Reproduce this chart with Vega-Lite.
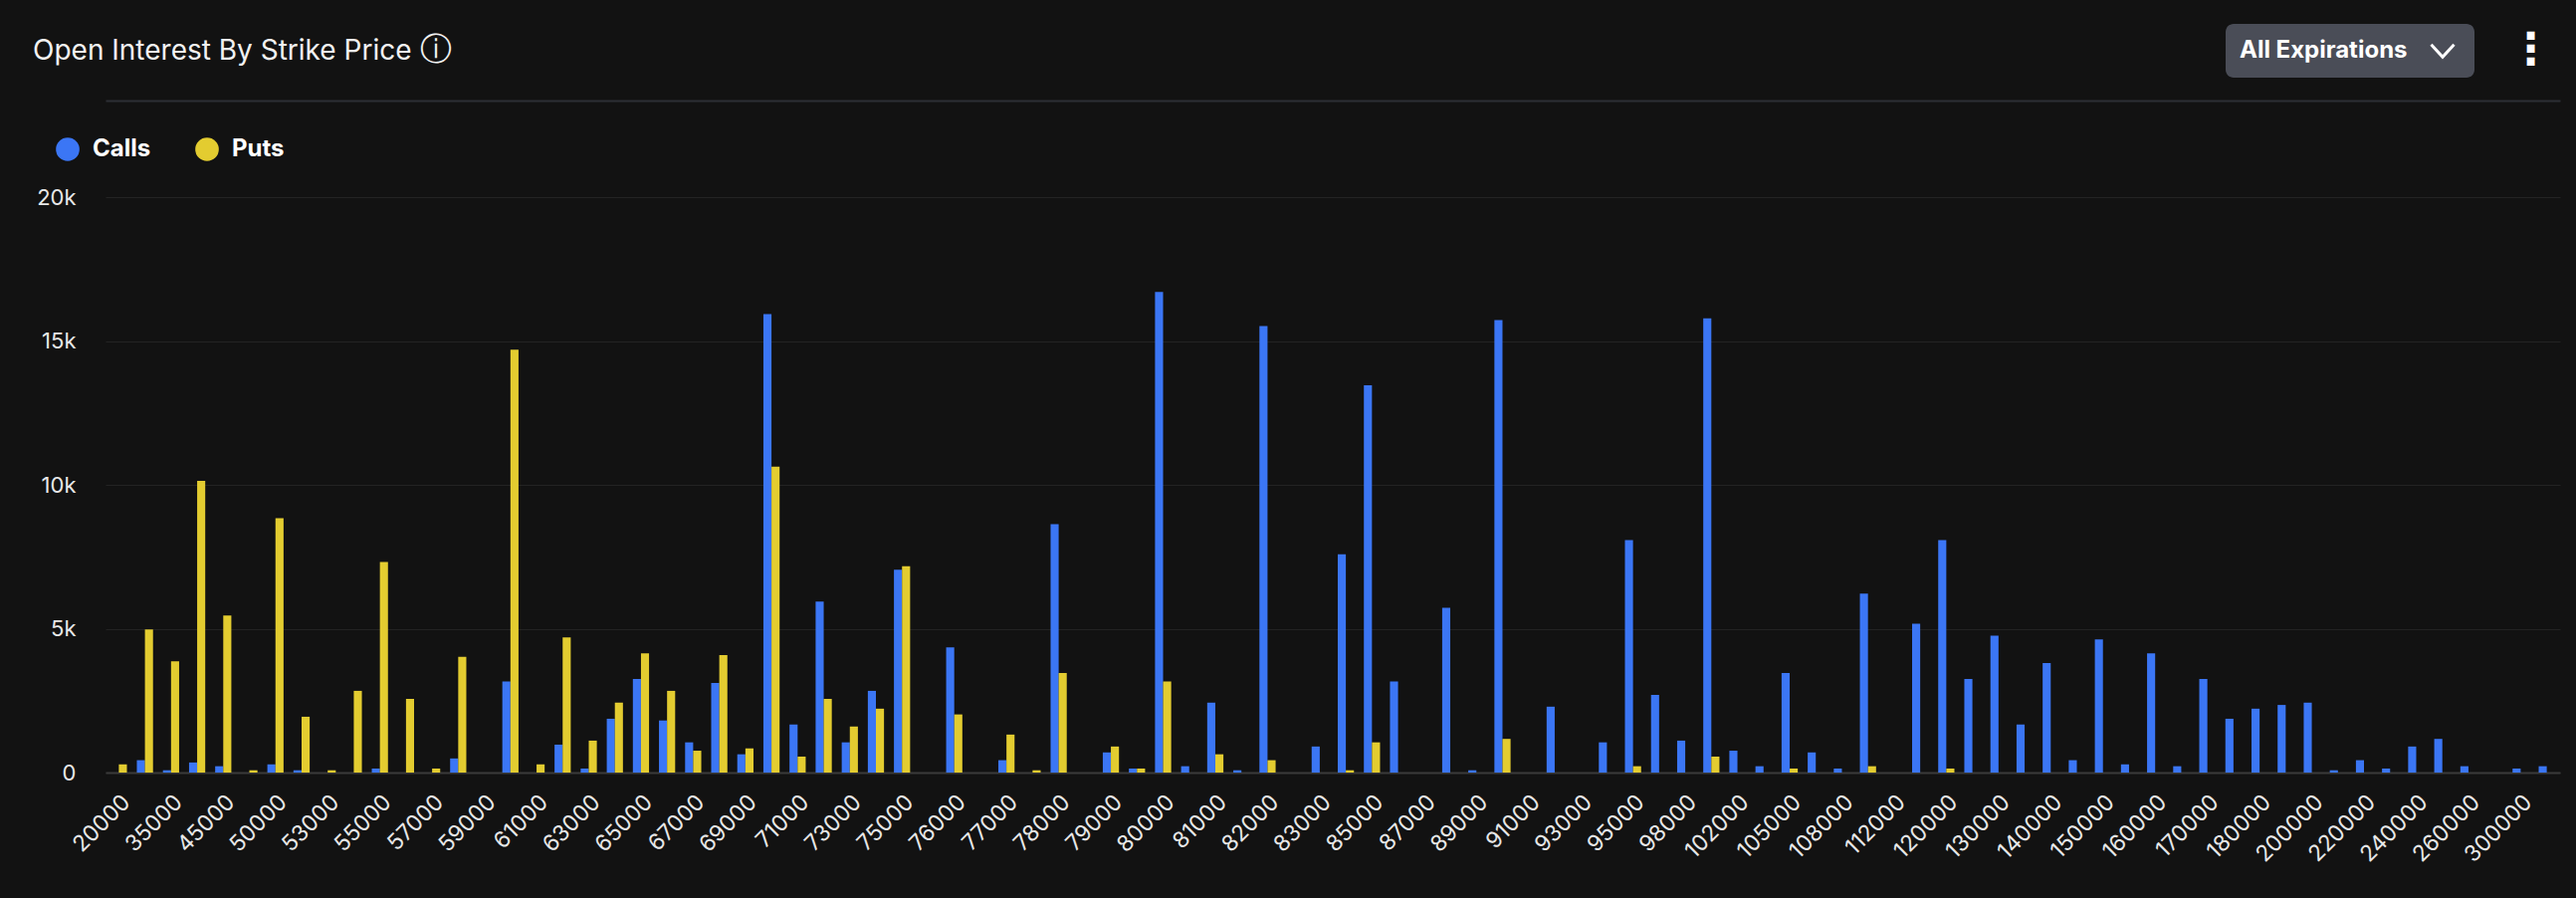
{
  "$schema": "https://vega.github.io/schema/vega-lite/v6.json",
  "description": "Open interest by strike price, calls vs puts.",
  "autosize": {"type": "none"},
  "width": 2466,
  "height": 578,
  "padding": {"left": 106, "top": 198, "right": 16, "bottom": 126},
  "background": "#121212",
  "title": {
    "text": "Open Interest By Strike Price",
    "anchor": "start",
    "frame": "group",
    "dx": -73,
    "dy": 46,
    "fontSize": 28,
    "fontWeight": "normal",
    "font": "Inter",
    "color": "#f2f2f2"
  },
  "layer": [
    {
      "data": {
        "values": [
          {"strike": 20000, "Calls": 0, "Puts": 285},
          {"strike": 30000, "Calls": 430, "Puts": 4970},
          {"strike": 35000, "Calls": 80, "Puts": 3870},
          {"strike": 40000, "Calls": 350, "Puts": 10140},
          {"strike": 45000, "Calls": 220, "Puts": 5460},
          {"strike": 48000, "Calls": 0, "Puts": 80},
          {"strike": 50000, "Calls": 285, "Puts": 8840},
          {"strike": 52000, "Calls": 80, "Puts": 1940},
          {"strike": 53000, "Calls": 0, "Puts": 80},
          {"strike": 54000, "Calls": 0, "Puts": 2840},
          {"strike": 55000, "Calls": 140, "Puts": 7320},
          {"strike": 56000, "Calls": 0, "Puts": 2560},
          {"strike": 57000, "Calls": 0, "Puts": 140},
          {"strike": 58000, "Calls": 490, "Puts": 4020},
          {"strike": 59000, "Calls": 0, "Puts": 0},
          {"strike": 60000, "Calls": 3170, "Puts": 14700},
          {"strike": 61000, "Calls": 0, "Puts": 285},
          {"strike": 62000, "Calls": 970, "Puts": 4700},
          {"strike": 63000, "Calls": 140, "Puts": 1110},
          {"strike": 64000, "Calls": 1870, "Puts": 2430},
          {"strike": 65000, "Calls": 3250, "Puts": 4140},
          {"strike": 66000, "Calls": 1810, "Puts": 2840},
          {"strike": 67000, "Calls": 1050, "Puts": 760},
          {"strike": 68000, "Calls": 3110, "Puts": 4080},
          {"strike": 69000, "Calls": 635, "Puts": 840},
          {"strike": 70000, "Calls": 15930, "Puts": 10630},
          {"strike": 71000, "Calls": 1670, "Puts": 555},
          {"strike": 72000, "Calls": 5940, "Puts": 2560},
          {"strike": 73000, "Calls": 1050, "Puts": 1600},
          {"strike": 74000, "Calls": 2840, "Puts": 2220},
          {"strike": 75000, "Calls": 7050, "Puts": 7170},
          {"strike": 75500, "Calls": 0, "Puts": 0},
          {"strike": 76000, "Calls": 4350, "Puts": 2020},
          {"strike": 76500, "Calls": 0, "Puts": 0},
          {"strike": 77000, "Calls": 430, "Puts": 1320},
          {"strike": 77500, "Calls": 0, "Puts": 80},
          {"strike": 78000, "Calls": 8630, "Puts": 3460},
          {"strike": 78500, "Calls": 0, "Puts": 0},
          {"strike": 79000, "Calls": 700, "Puts": 905},
          {"strike": 79500, "Calls": 140, "Puts": 140},
          {"strike": 80000, "Calls": 16700, "Puts": 3170},
          {"strike": 80500, "Calls": 220, "Puts": 0},
          {"strike": 81000, "Calls": 2430, "Puts": 635},
          {"strike": 81500, "Calls": 80, "Puts": 0},
          {"strike": 82000, "Calls": 15520, "Puts": 430},
          {"strike": 82500, "Calls": 0, "Puts": 0},
          {"strike": 83000, "Calls": 905, "Puts": 0},
          {"strike": 84000, "Calls": 7590, "Puts": 80},
          {"strike": 85000, "Calls": 13460, "Puts": 1050},
          {"strike": 86000, "Calls": 3170, "Puts": 0},
          {"strike": 87000, "Calls": 0, "Puts": 0},
          {"strike": 88000, "Calls": 5730, "Puts": 0},
          {"strike": 89000, "Calls": 80, "Puts": 0},
          {"strike": 90000, "Calls": 15730, "Puts": 1170},
          {"strike": 91000, "Calls": 0, "Puts": 0},
          {"strike": 92000, "Calls": 2290, "Puts": 0},
          {"strike": 93000, "Calls": 0, "Puts": 0},
          {"strike": 94000, "Calls": 1050, "Puts": 0},
          {"strike": 95000, "Calls": 8080, "Puts": 220},
          {"strike": 96000, "Calls": 2700, "Puts": 0},
          {"strike": 98000, "Calls": 1110, "Puts": 0},
          {"strike": 100000, "Calls": 15790, "Puts": 555},
          {"strike": 102000, "Calls": 760, "Puts": 0},
          {"strike": 104000, "Calls": 220, "Puts": 0},
          {"strike": 105000, "Calls": 3460, "Puts": 140},
          {"strike": 106000, "Calls": 700, "Puts": 0},
          {"strike": 108000, "Calls": 140, "Puts": 0},
          {"strike": 110000, "Calls": 6220, "Puts": 220},
          {"strike": 112000, "Calls": 0, "Puts": 0},
          {"strike": 115000, "Calls": 5170, "Puts": 0},
          {"strike": 120000, "Calls": 8080, "Puts": 140},
          {"strike": 125000, "Calls": 3250, "Puts": 0},
          {"strike": 130000, "Calls": 4760, "Puts": 0},
          {"strike": 135000, "Calls": 1670, "Puts": 0},
          {"strike": 140000, "Calls": 3810, "Puts": 0},
          {"strike": 145000, "Calls": 430, "Puts": 0},
          {"strike": 150000, "Calls": 4630, "Puts": 0},
          {"strike": 155000, "Calls": 285, "Puts": 0},
          {"strike": 160000, "Calls": 4140, "Puts": 0},
          {"strike": 165000, "Calls": 220, "Puts": 0},
          {"strike": 170000, "Calls": 3250, "Puts": 0},
          {"strike": 175000, "Calls": 1870, "Puts": 0},
          {"strike": 180000, "Calls": 2220, "Puts": 0},
          {"strike": 190000, "Calls": 2350, "Puts": 0},
          {"strike": 200000, "Calls": 2430, "Puts": 0},
          {"strike": 210000, "Calls": 80, "Puts": 0},
          {"strike": 220000, "Calls": 430, "Puts": 0},
          {"strike": 230000, "Calls": 140, "Puts": 0},
          {"strike": 240000, "Calls": 905, "Puts": 0},
          {"strike": 250000, "Calls": 1170, "Puts": 0},
          {"strike": 260000, "Calls": 220, "Puts": 0},
          {"strike": 280000, "Calls": 0, "Puts": 0},
          {"strike": 300000, "Calls": 140, "Puts": 0},
          {"strike": 320000, "Calls": 220, "Puts": 0}
        ]
      },
      "transform": [{"fold": ["Calls", "Puts"], "as": ["type", "oi"]}],
      "mark": "bar",
      "encoding": {
        "x": {
          "field": "strike",
          "type": "ordinal",
          "sort": "ascending",
          "scale": {"paddingInner": 0.38, "paddingOuter": 0.2},
          "axis": {
            "title": "ⓘ",
            "titleFont": "DejaVu Sans",
            "titleFontSize": 32,
            "titleFontWeight": "normal",
            "titleColor": "#f2f2f2",
            "titleAngle": 0,
            "titleAlign": "center",
            "titleBaseline": "middle",
            "titleX": 331,
            "titleY": -727,
            "values": [20000, 35000, 45000, 50000, 53000, 55000, 57000, 59000, 61000, 63000, 65000, 67000, 69000, 71000, 73000, 75000, 76000, 77000, 78000, 79000, 80000, 81000, 82000, 83000, 85000, 87000, 89000, 91000, 93000, 95000, 98000, 102000, 105000, 108000, 112000, 120000, 130000, 140000, 150000, 160000, 170000, 180000, 200000, 220000, 240000, 260000, 300000],
            "labelAngle": -45,
            "labelFontSize": 22.5,
            "labelFont": "Inter",
            "labelColor": "#e8e8e8",
            "labelPadding": 18,
            "ticks": false,
            "domainColor": "#3a3a3a",
            "domainWidth": 2,
            "grid": false
          }
        },
        "xOffset": {
          "field": "type",
          "type": "nominal",
          "scale": {"domain": ["Calls", "Puts"], "paddingInner": 0, "paddingOuter": 0}
        },
        "y": {
          "field": "oi",
          "type": "quantitative",
          "scale": {"domain": [0, 20000]},
          "axis": {
            "title": "⋮",
            "titleFont": "DejaVu Sans",
            "titleFontSize": 44,
            "titleFontWeight": "bold",
            "titleColor": "#ffffff",
            "titleAngle": 0,
            "titleAlign": "center",
            "titleBaseline": "middle",
            "titleX": 2436,
            "titleY": -148,
            "values": [0, 5000, 10000, 15000, 20000],
            "labelExpr": "datum.value == 0 ? '0' : (datum.value / 1000) + 'k'",
            "labelFontSize": 22,
            "labelFont": "Inter",
            "labelColor": "#e8e8e8",
            "labelPadding": 30,
            "ticks": false,
            "domain": false,
            "grid": true,
            "gridColor": "#232323",
            "gridWidth": 1
          }
        },
        "color": {
          "field": "type",
          "type": "nominal",
          "scale": {"domain": ["Calls", "Puts"], "range": ["#3b76f5", "#e3cc30"]},
          "legend": {
            "title": null,
            "orient": "none",
            "legendX": -50,
            "legendY": -60,
            "direction": "horizontal",
            "symbolType": "circle",
            "symbolSize": 560,
            "symbolStrokeWidth": 0,
            "labelFont": "Inter",
            "labelFontSize": 24,
            "labelFontWeight": "bold",
            "labelColor": "#ffffff",
            "labelOffset": 13,
            "columnPadding": 44
          }
        }
      }
    },
    {
      "data": {"values": [{"menu": "All Expirations"}]},
      "mark": {"type": "point", "opacity": 0},
      "encoding": {
        "x": {
          "datum": 20000,
          "type": "ordinal",
          "axis": {
            "orient": "top",
            "offset": 97,
            "title": null,
            "labels": false,
            "ticks": false,
            "grid": false,
            "domainColor": "#2c2e35",
            "domainWidth": 2
          }
        },
        "shape": {
          "field": "menu",
          "type": "nominal",
          "scale": {"range": ["M-1,-0.55L0,0.55L1,-0.55"]},
          "legend": {
            "title": "All Expirations",
            "titleOrient": "left",
            "titleFont": "Inter",
            "titleFontSize": 24,
            "titleFontWeight": "bold",
            "titleColor": "#ffffff",
            "titlePadding": 22,
            "labelExpr": "''",
            "labelOffset": 0,
            "orient": "none",
            "legendX": 2130,
            "legendY": -174,
            "fillColor": "#4a4d57",
            "cornerRadius": 8,
            "padding": 14,
            "symbolSize": 529,
            "symbolOpacity": 1,
            "symbolFillColor": "transparent",
            "symbolStrokeColor": "#ffffff",
            "symbolStrokeWidth": 3
          }
        }
      }
    }
  ],
  "resolve": {"axis": {"x": "independent"}},
  "config": {
    "view": {"stroke": null},
    "font": "Inter"
  }
}
